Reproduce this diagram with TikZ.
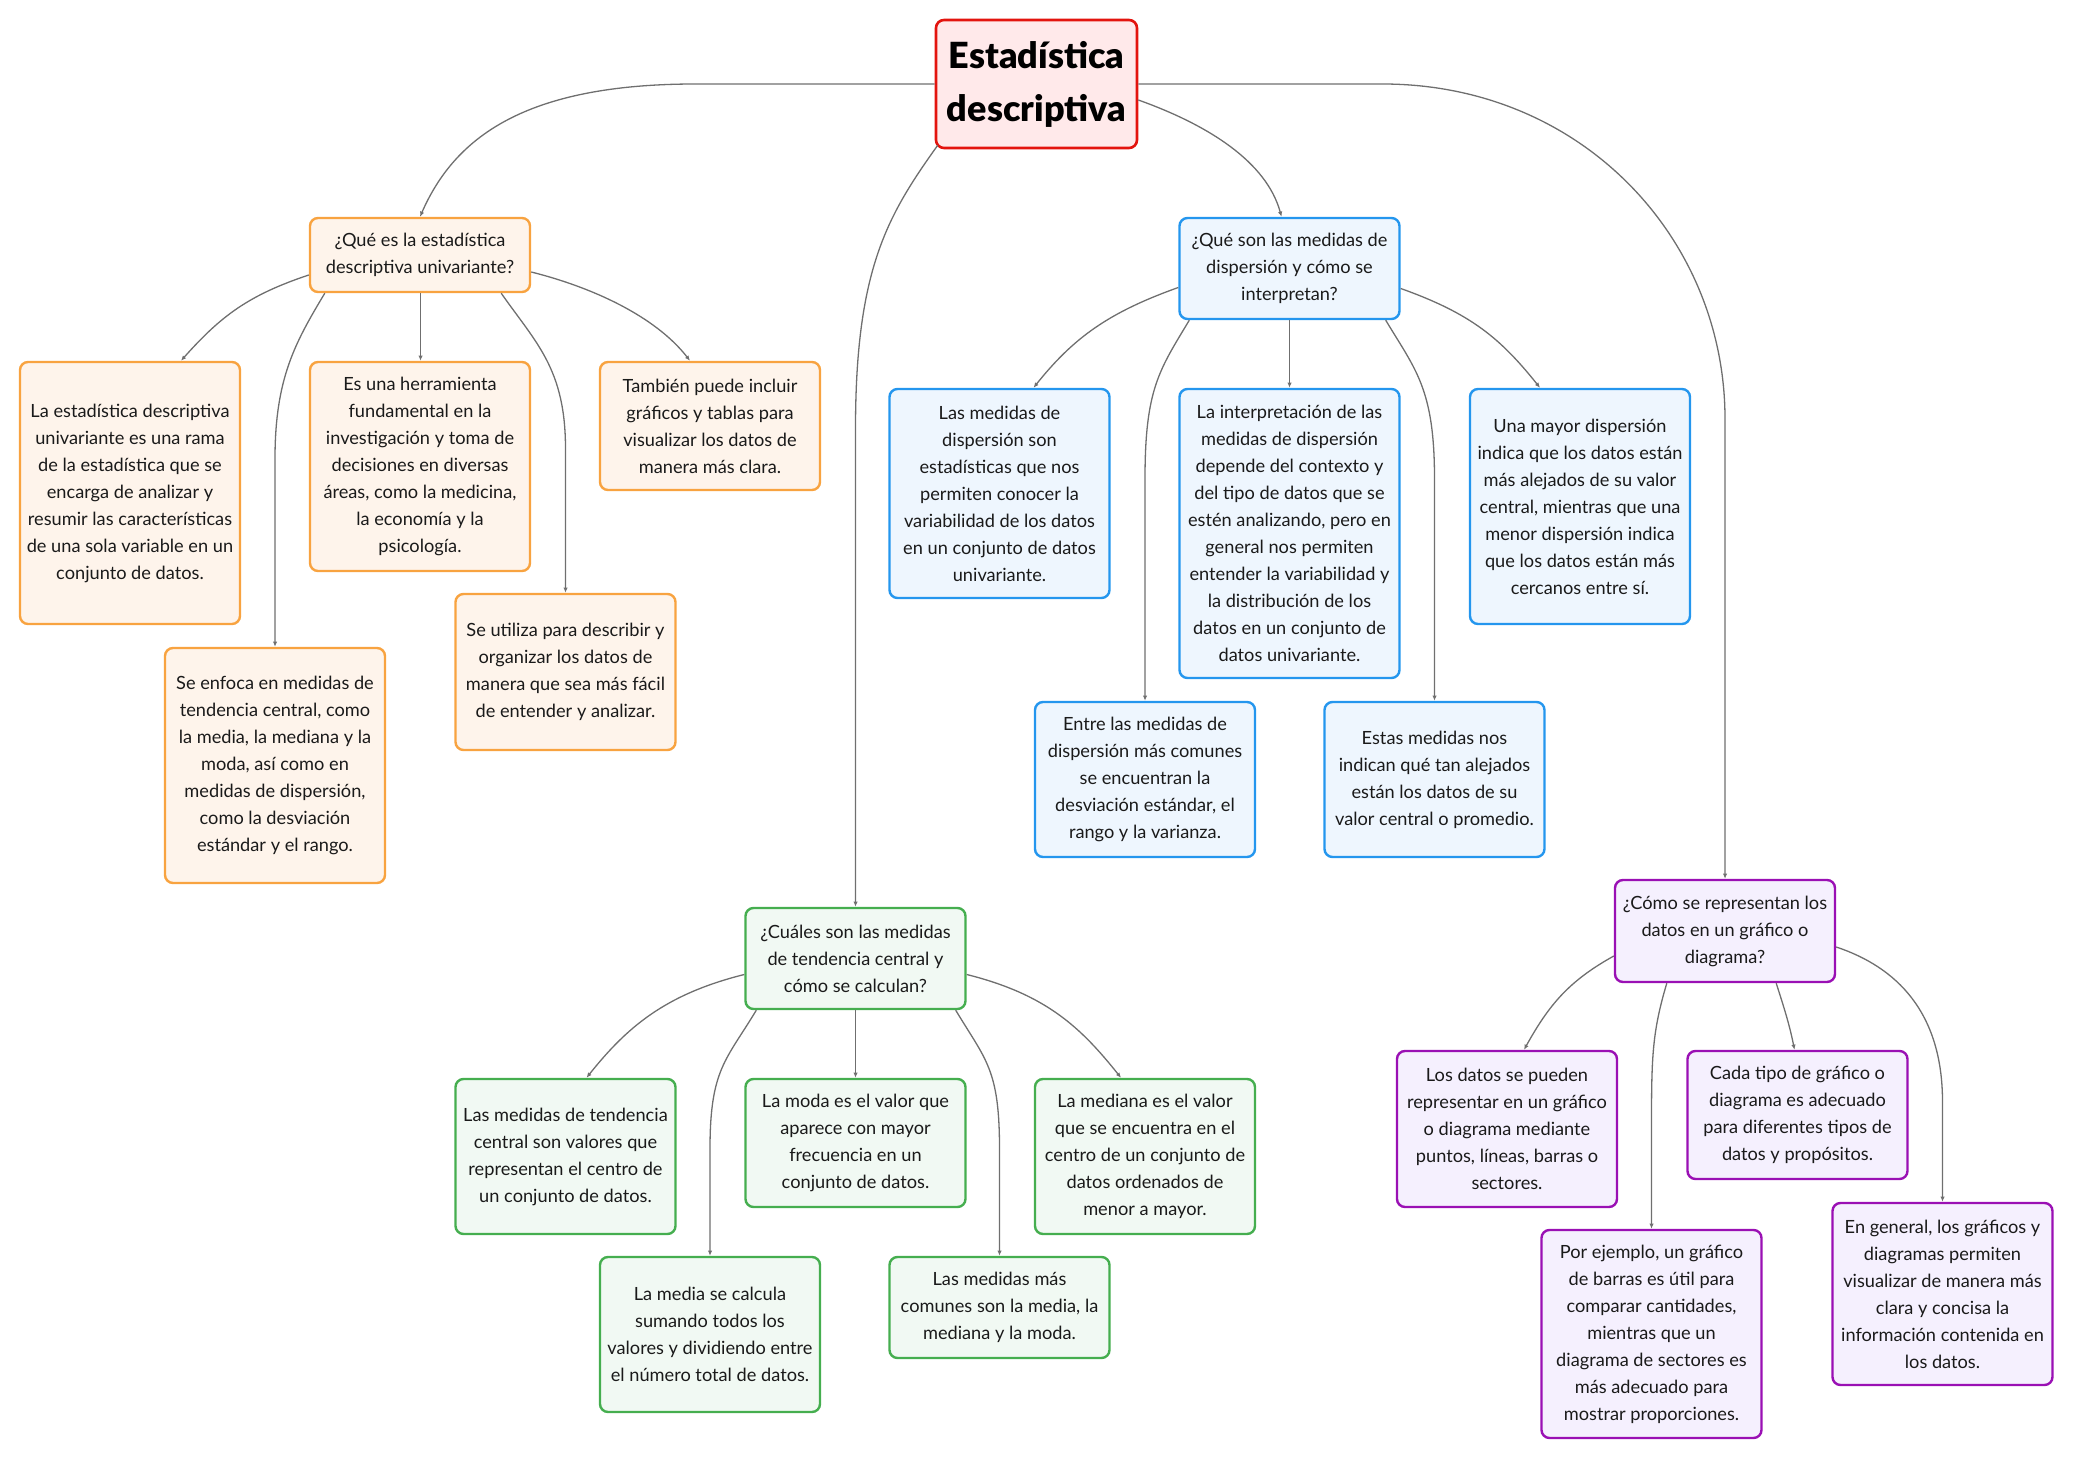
\documentclass[tikz,border=0pt]{standalone}
\usepackage{fontspec}
\setmainfont{Lato}
\newfontfamily\heavyfont{Lato Black}
\usetikzlibrary{positioning, arrows.meta, calc}
\definecolor{txt}{HTML}{1A1A1A}
\definecolor{wire}{HTML}{6F6F6F}
\definecolor{rootdraw}{HTML}{E3140E}
\definecolor{rootfill}{HTML}{FFE9EA}
\definecolor{unidraw}{HTML}{F8A340}
\definecolor{unifill}{HTML}{FEF4EB}
\definecolor{disdraw}{HTML}{2496EE}
\definecolor{disfill}{HTML}{EEF6FE}
\definecolor{cendraw}{HTML}{45AE4F}
\definecolor{cenfill}{HTML}{F1F9F3}
\definecolor{gradraw}{HTML}{9A10B4}
\definecolor{grafill}{HTML}{F5F0FE}
\tikzset{%
	box/.style = {rectangle, rounded corners = 4pt, line width = 1.2pt, align = center, minimum width = 110pt, inner xsep = 2pt, inner ysep = 3pt, text = txt, font = \fontsize{9.1}{13.5}\selectfont},
	mainbox/.style = {box, draw = rootdraw, fill = rootfill, line width = 1.3pt, minimum width = 100.5pt, minimum height = 64pt, inner xsep = 1pt, text = black, font = \fontsize{18}{26.5}\selectfont\heavyfont},
	uni/.style = {box, draw = unidraw, fill = unifill, minimum height = #1},
	dis/.style = {box, draw = disdraw, fill = disfill, minimum height = #1},
	cen/.style = {box, draw = cendraw, fill = cenfill, minimum height = #1},
	gra/.style = {box, draw = gradraw, fill = grafill, minimum height = #1},
	link/.style = {draw = wire, line width = 0.65pt, ->},
	>={Latex[length=2.6pt, width=2.2pt]}
}
\begin{document}
\begin{tikzpicture}[x=0.5pt, y=-0.5pt]
	\useasboundingbox (0,0) rectangle (2073,1459);
	\node [mainbox] (root) at (1036.5,84) {Estadística\\descriptiva};

	\node [uni=37pt] (uni) at (420,255) {¿Qué es la estadística\\descriptiva univariante?};
	\node [uni=131pt] (uni1) at (130,493) {La estadística descriptiva\\univariante es una rama\\de la estadística que se\\encarga de analizar y\\resumir las características\\de una sola variable en un\\conjunto de datos.};
	\node [uni=104.5pt] (uni2) at (420,466.5) {Es una herramienta\\fundamental en la\\investigación y toma de\\decisiones en diversas\\áreas, como la medicina,\\la economía y la\\psicología.};
	\node [uni=64pt] (uni3) at (710,426) {También puede incluir\\gráficos y tablas para\\visualizar los datos de\\manera más clara.};
	\node [uni=117.5pt] (uni4) at (275,765.5) {Se enfoca en medidas de\\tendencia central, como\\la media, la mediana y la\\moda, así como en\\medidas de dispersión,\\como la desviación\\estándar y el rango.};
	\node [uni=78pt] (uni5) at (565.5,672) {Se utiliza para describir y\\organizar los datos de\\manera que sea más fácil\\de entender y analizar.};

	\node [dis=50.5pt] (dis) at (1289.5,268.5) {¿Qué son las medidas de\\dispersión y cómo se\\interpretan?};
	\node [dis=104.5pt] (dis1) at (999.5,493.5) {Las medidas de\\dispersión son\\estadísticas que nos\\permiten conocer la\\variabilidad de los datos\\en un conjunto de datos\\univariante.};
	\node [dis=144.5pt] (dis2) at (1289.5,533.5) {La interpretación de las\\medidas de dispersión\\depende del contexto y\\del tipo de datos que se\\estén analizando, pero en\\general nos permiten\\entender la variabilidad y\\la distribución de los\\datos en un conjunto de\\datos univariante.};
	\node [dis=117.5pt] (dis3) at (1580,506.5) {Una mayor dispersión\\indica que los datos están\\más alejados de su valor\\central, mientras que una\\menor dispersión indica\\que los datos están más\\cercanos entre sí.};
	\node [dis=77.5pt] (dis4) at (1145,779.5) {Entre las medidas de\\dispersión más comunes\\se encuentran la\\desviación estándar, el\\rango y la varianza.};
	\node [dis=77.5pt] (dis5) at (1434.5,779.5) {Estas medidas nos\\indican qué tan alejados\\están los datos de su\\valor central o promedio.};

	\node [cen=50.5pt] (cen) at (855.5,958.5) {¿Cuáles son las medidas\\de tendencia central y\\cómo se calculan?};
	\node [cen=77.5pt] (cen1) at (565.5,1156.5) {Las medidas de tendencia\\central son valores que\\representan el centro de\\un conjunto de datos.};
	\node [cen=64pt] (cen2) at (855.5,1143) {La moda es el valor que\\aparece con mayor\\frecuencia en un\\conjunto de datos.};
	\node [cen=77.5pt] (cen3) at (1145,1156.5) {La mediana es el valor\\que se encuentra en el\\centro de un conjunto de\\datos ordenados de\\menor a mayor.};
	\node [cen=77.5pt] (cen4) at (710,1334.5) {La media se calcula\\sumando todos los\\valores y dividiendo entre\\el número total de datos.};
	\node [cen=50.5pt] (cen5) at (999.5,1307.5) {Las medidas más\\comunes son la media, la\\mediana y la moda.};

	\node [gra=51pt] (gra) at (1725,931) {¿Cómo se representan los\\datos en un gráfico o\\diagrama?};
	\node [gra=78pt] (gra1) at (1507,1129) {Los datos se pueden\\representar en un gráfico\\o diagrama mediante\\puntos, líneas, barras o\\sectores.};
	\node [gra=64pt] (gra2) at (1797.5,1115) {Cada tipo de gráfico o\\diagrama es adecuado\\para diferentes tipos de\\datos y propósitos.};
	\node [gra=104pt] (gra3) at (1651.5,1334) {Por ejemplo, un gráfico\\de barras es útil para\\comparar cantidades,\\mientras que un\\diagrama de sectores es\\más adecuado para\\mostrar proporciones.};
	\node [gra=91pt] (gra4) at (1942.5,1294) {En general, los gráficos y\\diagramas permiten\\visualizar de manera más\\clara y concisa la\\información contenida en\\los datos.};

	\draw [link] (root.west) -- ++(-239,0) .. controls +(-170,0) and +(35,-80) .. (uni.north);
	\draw [link] ($(root.south west)+(3,-4)$) .. controls +(-50,70) and +(0,-160) .. ($(cen.north)+(0,-478)$) -- (cen.north);
	\draw [link] ($(root.east)+(0,16)$) .. controls +(70,25) and +(-15,-55) .. ($(dis.north)+(-8,0)$);
	\draw [link] (root.east) -- ++(244,0) .. controls +(200,0) and +(0,-180) .. ($(gra.north)+(0,-460)$) -- (gra.north);

	\draw [link] ($(uni.west)+(0,20)$) .. controls +(-60,20) and +(40,-45) .. ($(uni1.north)+(51,0)$);
	\draw [link] ($(uni.south west)+(16,0)$) .. controls +(-30,50) and +(0,-80) .. ($(uni4.north)+(0,-188)$) -- (uni4.north);
	\draw [link] ($(uni.south)+(0.5,0)$) -- ($(uni2.north)+(0.5,0)$);
	\draw [link] ($(uni.south east)+(-30,0)$) .. controls +(35,50) and +(0,-80) .. ($(uni5.north)+(0,-144)$) -- (uni5.north);
	\draw [link] ($(uni.east)+(0,17)$) .. controls +(60,15) and +(-35,-45) .. ($(uni3.north)+(-20,0)$);

	\draw [link] ($(dis.west)+(0,19)$) .. controls +(-70,25) and +(40,-50) .. ($(dis1.north)+(34,0)$);
	\draw [link] ($(dis.south west)+(11,0)$) .. controls +(-30,50) and +(0,-90) .. ($(dis4.north)+(0,-222)$) -- (dis4.north);
	\draw [link] (dis.south) -- (dis2.north);
	\draw [link] ($(dis.south east)+(-15,0)$) .. controls +(30,50) and +(0,-90) .. ($(dis5.north)+(0,-222)$) -- (dis5.north);
	\draw [link] ($(dis.east)+(0,20)$) .. controls +(70,25) and +(-40,-50) .. ($(dis3.north)+(-40,0)$);

	\draw [link] ($(cen.west)+(0,16)$) .. controls +(-80,20) and +(40,-50) .. ($(cen1.north)+(21,0)$);
	\draw [link] ($(cen.south west)+(12,0)$) .. controls +(-30,50) and +(0,-80) .. ($(cen4.north)+(0,-107)$) -- (cen4.north);
	\draw [link] (cen.south) -- (cen2.north);
	\draw [link] ($(cen.south east)+(-11,0)$) .. controls +(30,50) and +(0,-80) .. ($(cen5.north)+(0,-107)$) -- (cen5.north);
	\draw [link] ($(cen.east)+(0,16)$) .. controls +(80,20) and +(-40,-50) .. ($(cen3.north)+(-24,0)$);

	\draw [link] ($(gra.west)+(0,25)$) .. controls +(-45,25) and +(25,-45) .. ($(gra1.north)+(17,0)$);
	\draw [link] ($(gra.south west)+(53,0)$) .. controls +(-15,50) and +(0,-70) .. ($(gra3.north)+(0,-100)$) -- (gra3.north);
	\draw [link] ($(gra.south east)+(-60,0)$) .. controls +(8,25) and +(-5,-25) .. ($(gra2.north)+(-3,0)$);
	\draw [link] ($(gra.east)+(0,16)$) .. controls +(60,20) and +(0,-90) .. ($(gra4.north)+(0,-100)$) -- (gra4.north);
\end{tikzpicture}
\end{document}
